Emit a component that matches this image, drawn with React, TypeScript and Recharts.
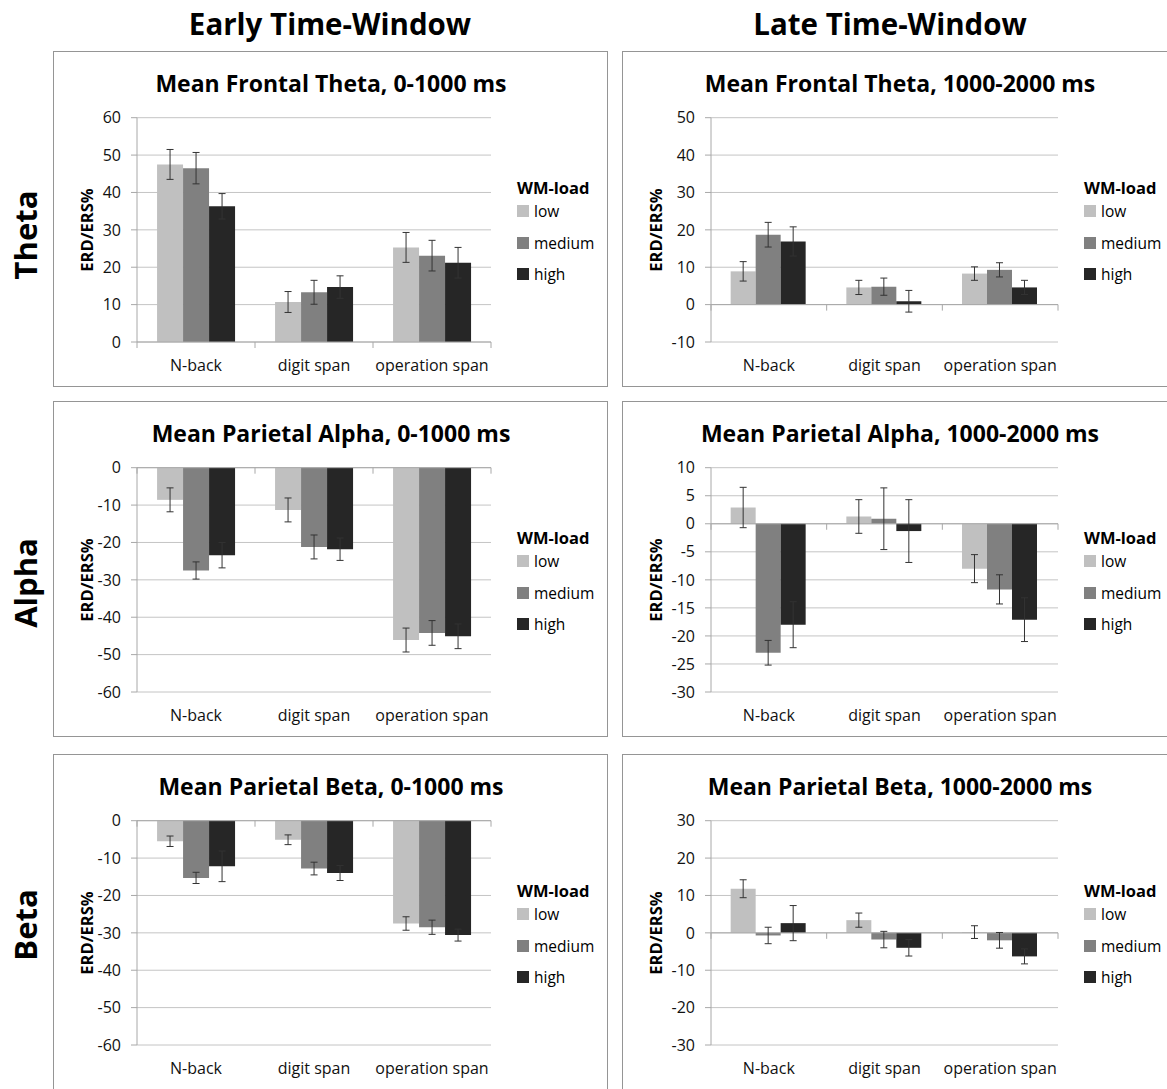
import React from 'react';
import {
  BarChart,
  Bar,
  XAxis,
  YAxis,
  CartesianGrid,
  ErrorBar,
  ReferenceLine,
} from 'recharts';

// categories and WM-load levels
const tasks = ['N-back', 'digit span', 'operation span'];
const loads = ['low', 'medium', 'high'];
const loadColors = ['#c0c0c0', '#808080', '#262626'];

// rows = task, cols = low / medium / high
const thetaEarlyMean = [[47.5, 46.5, 36.3], [10.7, 13.3, 14.7], [25.3, 23.1, 21.2]];
const thetaEarlyErr = [[4.0, 4.2, 3.4], [2.8, 3.2, 3.0], [4.0, 4.1, 4.1]];
const thetaLateMean = [[8.9, 18.7, 16.9], [4.6, 4.8, 0.9], [8.3, 9.3, 4.6]];
const thetaLateErr = [[2.6, 3.3, 3.9], [1.9, 2.3, 2.9], [1.8, 1.9, 1.9]];

const alphaEarlyMean = [[-8.6, -27.5, -23.4], [-11.3, -21.2, -21.8], [-46.1, -44.2, -45.1]];
const alphaEarlyErr = [[3.2, 2.3, 3.4], [3.2, 3.2, 3.0], [3.2, 3.3, 3.3]];
const alphaLateMean = [[2.9, -23.0, -18.0], [1.3, 0.9, -1.3], [-8.0, -11.7, -17.1]];
const alphaLateErr = [[3.6, 2.2, 4.1], [3.0, 5.5, 5.6], [2.5, 2.6, 3.9]];

const betaEarlyMean = [[-5.5, -15.3, -12.2], [-5.1, -12.8, -14.0], [-27.5, -28.5, -30.6]];
const betaEarlyErr = [[1.4, 1.5, 4.1], [1.3, 1.7, 2.0], [1.8, 1.9, 1.6]];
const betaLateMean = [[11.8, -0.7, 2.6], [3.4, -1.8, -4.0], [0.2, -2.0, -6.3]];
const betaLateErr = [[2.4, 2.2, 4.7], [1.9, 2.2, 2.2], [1.7, 2.1, 2.0]];

// y tick labels
const thetaEarlyTicks = [0, 10, 20, 30, 40, 50, 60];
const thetaLateTicks = [-10, 0, 10, 20, 30, 40, 50];
const alphaEarlyTicks = [-60, -50, -40, -30, -20, -10, 0];
const alphaLateTicks = [-30, -25, -20, -15, -10, -5, 0, 5, 10];
const betaEarlyTicks = [-60, -50, -40, -30, -20, -10, 0];
const betaLateTicks = [-30, -20, -10, 0, 10, 20, 30];

const FONT = '"Open Sans", sans-serif';
const GRID = '#c4c4c4';
const AXIS = '#a8a8a8';

const buildRows = (mean: number[][], err: number[][]) =>
  tasks.map((name, i) => {
    const row: any = { name };
    loads.forEach((l, j) => {
      row[l] = mean[i][j];
      row[l + 'Err'] = err[i][j];
    });
    return row;
  });

// zero line with small tick marks between the categories
const ZeroAxis = (p: any) => {
  const { x1, x2, y1 } = p;
  const marks = tasks.map((_, k) => x1 + ((x2 - x1) * k) / tasks.length).concat([x2]);
  return (
    <g>
      <line x1={x1} x2={x2} y1={y1} y2={y1} stroke={AXIS} strokeWidth={1} />
      {marks.map((x, k) => (
        <line key={k} x1={x} x2={x} y1={y1} y2={y1 + 6} stroke={AXIS} strokeWidth={1} />
      ))}
    </g>
  );
};

type PanelProps = {
  left: number;
  top: number;
  title: string;
  mean: number[][];
  err: number[][];
  ticks: number[];
  plotLeft: number;
  plotRight: number;
};

const W = 555;
const H = 336;

const Panel = ({ left, top, title, mean, err, ticks, plotLeft, plotRight }: PanelProps) => {
  const data = buildRows(mean, err);
  const yw = 45;
  const innerW = W - 2;
  const innerH = H - 2;
  return (
    <div
      style={{
        position: 'absolute',
        left,
        top,
        width: W,
        height: H,
        border: '1px solid #959595',
        boxSizing: 'border-box',
        fontFamily: FONT,
        background: '#fff',
      }}
    >
      <div
        style={{
          position: 'absolute',
          left: 277 - 250,
          top: 15,
          width: 500,
          textAlign: 'center',
          fontSize: 23,
          fontWeight: 700,
          lineHeight: '32px',
          whiteSpace: 'nowrap',
        }}
      >
        {title}
      </div>
      <div
        style={{
          position: 'absolute',
          left: 33 - 60,
          top: 65.7 + 112 - 10,
          width: 120,
          height: 20,
          lineHeight: '20px',
          textAlign: 'center',
          fontSize: 16.5,
          fontWeight: 700,
          transform: 'rotate(-90deg)',
        }}
      >
        ERD/ERS%
      </div>
      <div style={{ position: 'absolute', left: 0, top: 0 }}>
        <BarChart
          width={innerW}
          height={innerH}
          data={data}
          margin={{ top: 65.7, right: innerW - plotRight, left: plotLeft - yw, bottom: 4 }}
          barCategoryGap="17%"
          barGap={0}
        >
          <CartesianGrid vertical={false} stroke={GRID} />
          <XAxis
            dataKey="name"
            axisLine={false}
            tickLine={false}
            tickSize={0}
            tickMargin={18}
            height={40}
            tick={{ fill: '#111', fontSize: 16, fontFamily: FONT }}
          />
          <YAxis
            width={yw}
            domain={[ticks[0], ticks[ticks.length - 1]]}
            ticks={ticks}
            interval={0}
            axisLine={{ stroke: AXIS }}
            tickLine={{ stroke: AXIS }}
            tickSize={6}
            tickMargin={10}
            tick={{ fill: '#111', fontSize: 16, fontFamily: FONT }}
          />
          <ReferenceLine y={0} shape={ZeroAxis} />
          {loads.map((l, j) => (
            <Bar key={l} dataKey={l} fill={loadColors[j]} isAnimationActive={false}>
              <ErrorBar dataKey={l + 'Err'} width={3.5} stroke="#333" strokeWidth={1} direction="y" />
            </Bar>
          ))}
        </BarChart>
      </div>
      <div style={{ position: 'absolute', left: plotRight + 26, top: 125, fontSize: 16.5, fontWeight: 700, lineHeight: '22px' }}>
        WM-load
      </div>
      {loads.map((l, j) => (
        <div
          key={l}
          style={{
            position: 'absolute',
            left: plotRight + 26,
            top: 148 + j * 31.5,
            height: 22,
            lineHeight: '22px',
            fontSize: 15.5,
            display: 'flex',
            alignItems: 'center',
            whiteSpace: 'nowrap',
          }}
        >
          <span style={{ display: 'inline-block', width: 12, height: 12, background: loadColors[j], marginRight: 5 }} />
          {l}
        </div>
      ))}
    </div>
  );
};

const RowLabel = ({ text, cy }: { text: string; cy: number }) => (
  <div
    style={{
      position: 'absolute',
      left: 25 - 60,
      top: cy - 20,
      width: 120,
      height: 40,
      lineHeight: '40px',
      textAlign: 'center',
      fontSize: 31,
      fontWeight: 700,
      fontFamily: FONT,
      transform: 'rotate(-90deg)',
    }}
  >
    {text}
  </div>
);

const ColHeader = ({ text, cx }: { text: string; cx: number }) => (
  <div
    style={{
      position: 'absolute',
      left: cx - 200,
      top: 4,
      width: 400,
      textAlign: 'center',
      fontSize: 29.5,
      fontWeight: 700,
      fontFamily: FONT,
      lineHeight: '40px',
    }}
  >
    {text}
  </div>
);

const leftCol = { left: 53, plotLeft: 83, plotRight: 437 };
const rightCol = { left: 622, plotLeft: 88, plotRight: 435 };

export default function App() {
  return (
    <div
      style={{
        position: 'absolute',
        left: 0,
        top: 0,
        width: 1167,
        height: 1089,
        overflow: 'hidden',
        background: '#fff',
      }}
    >
      <ColHeader text="Early Time-Window" cx={330} />
      <ColHeader text="Late Time-Window" cx={890} />
      <RowLabel text="Theta" cy={235} />
      <RowLabel text="Alpha" cy={583} />
      <RowLabel text="Beta" cy={925} />

      <Panel {...leftCol} top={51} title="Mean Frontal Theta, 0-1000 ms" mean={thetaEarlyMean} err={thetaEarlyErr} ticks={thetaEarlyTicks} />
      <Panel {...rightCol} top={51} title="Mean Frontal Theta, 1000-2000 ms" mean={thetaLateMean} err={thetaLateErr} ticks={thetaLateTicks} />
      <Panel {...leftCol} top={401} title="Mean Parietal Alpha, 0-1000 ms" mean={alphaEarlyMean} err={alphaEarlyErr} ticks={alphaEarlyTicks} />
      <Panel {...rightCol} top={401} title="Mean Parietal Alpha, 1000-2000 ms" mean={alphaLateMean} err={alphaLateErr} ticks={alphaLateTicks} />
      <Panel {...leftCol} top={754} title="Mean Parietal Beta, 0-1000 ms" mean={betaEarlyMean} err={betaEarlyErr} ticks={betaEarlyTicks} />
      <Panel {...rightCol} top={754} title="Mean Parietal Beta, 1000-2000 ms" mean={betaLateMean} err={betaLateErr} ticks={betaLateTicks} />
    </div>
  );
}
